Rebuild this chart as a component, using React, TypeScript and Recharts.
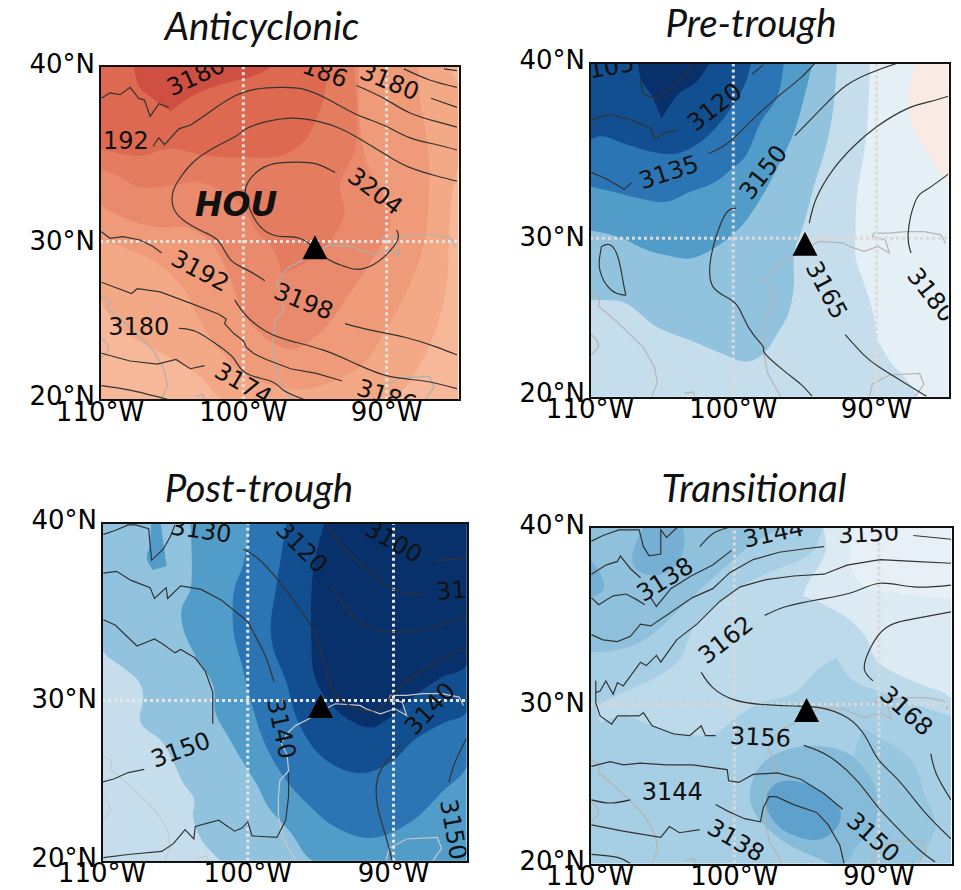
import React from 'react';
import { ScatterChart, Scatter, XAxis, YAxis } from 'recharts';

type Pt = [number, number];
type Lab = { at: Pt; text: string; angle: number; bold?: boolean };

// all map data is [lon, lat] in degrees
const lonTicks = [-110, -100, -90];
const latTicks = [20, 30, 40];
const houston: Pt[] = [[-95, 29.6]];

const blues = ['#c6deec', '#91c3de', '#519cc8', '#2b75b4', '#124f90', '#08306b'];

const coastLines: Pt[][] = [
  [[-96.7, 20], [-97.6, 21.5], [-97.9, 22.9], [-97.9, 24], [-97.8, 25.1], [-97.2, 25.7], [-97.3, 26.7], [-97.7, 27.4], [-97.2, 28.1], [-96.7, 28.5], [-95.8, 28.9], [-94.9, 29.4], [-94, 29.8], [-92.3, 29.7], [-91.9, 29.5], [-90.9, 29.2], [-89.9, 29.5], [-89.1, 29.1], [-89.4, 29.9], [-90.3, 30.1], [-90.2, 30.3], [-89.1, 30.3], [-88, 30.4], [-86.7, 30.4], [-85.5, 30.2], [-85.2, 29.7]],
  [[-109.9, 26.6], [-109.3, 26.3], [-109.4, 25.8], [-108.1, 24.8], [-107.2, 24], [-106.3, 23.2], [-105.5, 21.9], [-105.3, 20.9], [-105.7, 20]],
  [[-109.9, 24], [-109.5, 23.6], [-109.4, 23.2], [-109.9, 22.7]],
  [[-90.5, 20], [-90.3, 20.8], [-89.1, 21.4], [-87, 21.5], [-86.7, 20.8], [-87.3, 20]],
  [[-103.4, 20.2], [-102.8, 20.3], [-102.7, 20]],
];

// ---- Anticyclonic
const antiColors = ['#f7b89a', '#f4a986', '#ef9a78', '#e98a6c', '#e47c60', '#dc6950', '#cf4f42'];
const antiBands: Pt[][] = [
  [[-110, 20], [-85, 20], [-85, 40], [-110, 40]],
  [[-110, 26.6], [-108.4, 24.5], [-106, 23.2], [-103, 21.5], [-101.4, 20], [-89.8, 20], [-87.4, 22.8], [-85.9, 27], [-85.7, 30], [-85.5, 32.6], [-85, 34.9], [-85, 39], [-86, 40], [-110, 40]],
  [[-110, 30.3], [-108.4, 29.7], [-106, 28.7], [-104.2, 27.2], [-103, 25.1], [-101.6, 23.2], [-100, 21.7], [-98.1, 21], [-95.8, 20.7], [-93.7, 21.2], [-91.6, 22.4], [-90.2, 24.3], [-88.6, 27], [-87.4, 30], [-87.1, 33], [-87.1, 34.9], [-87.4, 36.8], [-87.8, 38.8], [-87.8, 40], [-110, 40]],
  [[-110, 32.4], [-108.4, 31.5], [-106, 30.9], [-104, 30.9], [-102.3, 30], [-100.9, 27.8], [-99.8, 25.3], [-98.1, 23.8], [-96.7, 23.3], [-94.7, 24.3], [-92.8, 26.6], [-90.9, 29.1], [-89.8, 31.1], [-90.2, 32.6], [-91.4, 34.6], [-91.9, 36.8], [-92, 40], [-110, 40]],
  [[-110, 34.3], [-108.6, 33.9], [-107.4, 33.3], [-104.9, 33.4], [-103.3, 33.6], [-101.4, 33], [-100, 32.1], [-99.1, 30.7], [-97.7, 29.3], [-97.3, 28], [-95.8, 28.7], [-94, 30], [-93, 31.7], [-93.3, 33.4], [-92.3, 35.3], [-92.1, 36.8], [-92.3, 40], [-110, 40]],
  [[-110, 35.5], [-107.2, 35.1], [-105.1, 35.5], [-102.6, 35.1], [-99.8, 35], [-97.4, 35.1], [-95.8, 35.9], [-94.9, 37.2], [-94.4, 38.4], [-94.1, 40], [-110, 40]],
  [[-107.6, 40], [-107.2, 38.9], [-106.3, 38.3], [-105.1, 37.6], [-103.7, 38.4], [-101.9, 39], [-99.1, 39.6], [-98.1, 40]],
];
const antiSmooth: Pt[][] = [
  [[-103.7, 36.8], [-102.6, 37.4], [-100.9, 38.3], [-99.1, 38.8], [-97.4, 38.9], [-95.8, 38.8], [-94, 38.2], [-92.1, 37.4], [-90.2, 36.8], [-88.4, 36.1], [-86.5, 35.7], [-85.1, 35.4]],
  [[-98.5, 27.6], [-99.8, 28.3], [-100.9, 28.9], [-101.7, 30], [-102.8, 30.6], [-104.2, 31.3], [-104.9, 32.1], [-104.9, 33], [-104.4, 33.8], [-103.5, 34.7], [-102.1, 35.5], [-100.5, 36.2], [-99.8, 36.6], [-98.4, 37], [-96.7, 37.2], [-95.3, 37.1], [-93.5, 36.7], [-91.6, 35.9], [-90, 35.1], [-88.4, 34.4], [-86.5, 33.9], [-85.1, 33.6]],
  [[-92.9, 24.9], [-91.2, 24.5], [-88.6, 24], [-86.5, 23.4], [-85.1, 22.9]],
  [[-93.6, 34.1], [-94.9, 34.6], [-96.3, 34.7], [-97.9, 34.6], [-99.1, 34.1], [-99.8, 33.3], [-99.8, 32.6], [-99.3, 31.5], [-98.4, 30.6], [-97.2, 30.3], [-95.8, 30.1], [-94.2, 29], [-93, 28.5], [-92.1, 28.3], [-90.9, 28.6], [-89.8, 29.4], [-89.2, 30.2], [-89.3, 30.7]],
  [[-92.1, 39], [-90.2, 38.3], [-88.4, 37.5], [-86.5, 37], [-85.1, 36.7]],
  [[-86.9, 38.3], [-85.1, 37.8]],
  [[-88.8, 39.9], [-87, 39.3], [-85.1, 38.9]],
  [[-86, 39.9], [-85.1, 39.8]],
  [[-100.6, 26.4], [-99.8, 25.4], [-98.4, 24.4], [-96.7, 23.8], [-94.4, 23.2], [-92.1, 22.3], [-89.8, 21.5], [-87.4, 21.2], [-85.1, 20.7]],
  [[-104.5, 24.6], [-103.3, 24.4], [-101.9, 23.6], [-100.7, 22.7], [-99.8, 21.7], [-98.1, 21.2], [-97.2, 20.6], [-95.8, 20]],
  [[-109.9, 20.9], [-107.9, 20.6], [-105.3, 20]],
];
const antiRough: Pt[][] = [
  [[-109.9, 38.3], [-109.3, 38.6], [-108.6, 38.5], [-107.9, 38.9], [-107.3, 38.3], [-106.9, 38.2], [-106.5, 37.3], [-105.9, 38], [-105.2, 37.8]],
  [[-106.3, 35.6], [-105.9, 36.1], [-105.5, 35.7], [-104.5, 36.6], [-103.7, 36.8]],
  [[-109.9, 30.6], [-109.3, 30.2], [-108.4, 30.3], [-107.2, 30.1], [-106.3, 29.7], [-105.7, 29.3]],
  [[-109.9, 27.5], [-107.8, 26.8], [-107.4, 27.1], [-105.8, 26.9], [-103.7, 26.2], [-101.7, 25.5], [-101.2, 25.2], [-101.3, 24.9], [-100.7, 24.3], [-100, 23.8], [-99.8, 23.4], [-99.3, 23], [-98.4, 22.6], [-96.7, 22], [-94.9, 21.7], [-93.1, 21.2]],
  [[-109.9, 23], [-107.9, 22.5], [-106, 22.3], [-104.7, 22.6], [-103.7, 22], [-102.7, 22.2]],
];
const antiLabels: Lab[] = [
  { at: [-103.3, 39.5], text: '3180', angle: -25 },
  { at: [-94.3, 39.7], text: '186', angle: 20 },
  { at: [-89.8, 39.2], text: '3180', angle: 22 },
  { at: [-108.2, 35.9], text: '192', angle: 0 },
  { at: [-90.8, 33], text: '3204', angle: 37 },
  { at: [-103, 28.2], text: '3192', angle: 28 },
  { at: [-95.8, 26.3], text: '3198', angle: 22 },
  { at: [-107.3, 24.7], text: '3180', angle: 0 },
  { at: [-100, 21], text: '3174', angle: 30 },
  { at: [-90, 20.2], text: '3186', angle: 18 },
  { at: [-100.5, 32.2], text: 'HOU', angle: 0, bold: true },
];

// ---- Pre-trough
const preColors = ['#e5eff6', '#f9eae3', ...blues];
const preBands: Pt[][] = [
  [[-110, 20], [-85, 20], [-85, 40], [-110, 40]],
  [[-87.3, 40], [-87.8, 37.9], [-87.7, 37], [-86.7, 35.4], [-85, 33.2], [-85, 40]],
  [[-90.5, 40], [-90.6, 37.9], [-90.8, 35.6], [-91.4, 32.6], [-91.5, 30.5], [-91.5, 28.8], [-90.9, 27.2], [-90.2, 25.1], [-90, 23.8], [-89.1, 22.3], [-87.7, 20.8], [-87.2, 20], [-110, 20], [-110, 40]],
  [[-92.8, 40], [-93.1, 37.3], [-93.5, 35.6], [-94.4, 33.1], [-95.1, 30.9], [-95.8, 29.1], [-95.8, 27.2], [-96.2, 25.3], [-97, 24], [-97.8, 22.9], [-98.6, 22.4], [-99.3, 22.3], [-100.5, 22.7], [-102.8, 23.6], [-105.3, 24.5], [-107.7, 26.1], [-108.6, 26.2], [-110, 26.2], [-110, 40]],
  [[-94.5, 40], [-95.1, 38.1], [-95.8, 36.2], [-97, 34.1], [-98.1, 32.4], [-99.5, 30.7], [-101.2, 29.5], [-103, 28.8], [-104.7, 29], [-106, 29.3], [-107.7, 30], [-108.8, 30.3], [-110, 30.5], [-110, 40]],
  [[-96.5, 40], [-97, 38.1], [-98.1, 36.8], [-99.3, 34.7], [-100, 34.2], [-101.4, 33.3], [-103, 32.8], [-104.7, 32.2], [-106.5, 32.4], [-108.4, 32.8], [-110, 33.1], [-110, 40]],
  [[-98.8, 40], [-99.2, 38.9], [-100.5, 37.2], [-102.1, 35.8], [-104, 35], [-105.6, 35.1], [-107.7, 35.6], [-109.3, 36], [-110, 35.8], [-110, 40]],
  [[-106.6, 40], [-106.4, 39.1], [-105.7, 38.3], [-105, 37], [-103.9, 38.3], [-102.6, 39], [-101.7, 40]],
];
const preSmooth: Pt[][] = [
  [[-101.7, 35], [-100.7, 35.4], [-99.8, 36], [-98.4, 37.1], [-96.7, 38.3], [-95.3, 39.2], [-94.3, 40]],
  [[-98.7, 39.4], [-97.9, 39.9]],
  [[-95.7, 36], [-94, 37.4], [-92.1, 38.8], [-90, 39.6], [-88.5, 40]],
  [[-94.7, 30.9], [-94.2, 32.4], [-93, 34.1], [-91.6, 35.4], [-90, 36.5], [-87.9, 37.5], [-86.3, 37.9], [-85, 38.2]],
  [[-99.8, 31.8], [-100.5, 31.5], [-101.2, 30.1], [-101.6, 28.6], [-101.4, 27], [-100, 26.1], [-99.3, 25.1], [-98.6, 24], [-97.9, 23.2], [-97.8, 22.8], [-96.5, 21.7], [-95.3, 20.8], [-94.5, 20]],
  [[-109.2, 29.5], [-108.6, 29.6], [-108, 28.7], [-107.6, 26.9], [-107.6, 26.5], [-108.5, 26.8], [-109.3, 28], [-109.3, 29], [-109.2, 29.5]],
  [[-85, 33.8], [-86.5, 32.9], [-87.3, 32.2], [-87.8, 30.3], [-87.6, 29.1]],
  [[-92.2, 24], [-90.9, 22.7], [-89.8, 21.9], [-87.9, 20.8], [-86.5, 20]],
];
const preRough: Pt[][] = [
  [[-106.5, 39.1], [-106.3, 38.3], [-105.5, 38.1], [-104.4, 38.6], [-103.3, 39.4], [-102.7, 40]],
  [[-109.9, 36.9], [-108.6, 37.2], [-107.2, 36.9], [-105.7, 36.4], [-105.5, 35.8], [-104.7, 36.2], [-103.9, 36.3]],
  [[-109.9, 33.9], [-108.8, 33.5], [-107.6, 32.9], [-107.1, 33.3]],
];
const preLabels: Lab[] = [
  { at: [-108.5, 39.8], text: '105', angle: -10 },
  { at: [-101.3, 37.6], text: '3120', angle: -38 },
  { at: [-104.5, 33.9], text: '3135', angle: -18 },
  { at: [-97.9, 33.9], text: '3150', angle: -52 },
  { at: [-93.5, 26.8], text: '3165', angle: 62 },
  { at: [-86.2, 26.5], text: '3180', angle: 52 },
];

// ---- Post-trough
const postColors = ['#91c3de', '#c6deec', '#519cc8', '#519cc8', '#2b75b4', '#124f90', '#08306b'];
const postBands: Pt[][] = [
  [[-110, 20], [-85, 20], [-85, 40], [-110, 40]],
  [[-109.9, 32.8], [-108.7, 32], [-107.5, 31.1], [-107.2, 30.2], [-107.4, 28.7], [-105.9, 27.5], [-105.1, 26.2], [-104.5, 25], [-103.7, 23.9], [-103.8, 22.9], [-103.1, 21.2], [-101.9, 20], [-110, 20], [-110, 33]],
  [[-103.9, 40], [-103.8, 37.7], [-103.9, 36.4], [-104.5, 35.3], [-104.4, 34.2], [-103.6, 32.7], [-102.3, 30.8], [-102.2, 29.3], [-101.3, 27.8], [-100.4, 26.4], [-99.3, 24.8], [-98.6, 23.5], [-97, 21.8], [-95.5, 20], [-85, 20], [-85, 40]],
  [[-106.9, 38.1], [-106.5, 37.5], [-105.6, 37.7], [-105.8, 38.8], [-106, 40], [-106.6, 40], [-106.7, 38.8]],
  [[-99.8, 40], [-100.3, 37.7], [-100.9, 36.4], [-101, 35], [-100.9, 33.8], [-100.4, 32.2], [-99.7, 29.8], [-98.8, 27.4], [-97.4, 25.2], [-95.6, 23.4], [-94, 22.2], [-91.5, 21.5], [-88.7, 22.6], [-86.7, 24.4], [-85, 26], [-85, 40]],
  [[-97.3, 40], [-97.6, 38.6], [-98.1, 36.1], [-98.4, 34.3], [-98.2, 33], [-97.4, 31.3], [-96.5, 28.7], [-94.9, 26.6], [-92.4, 25.6], [-90.3, 26.2], [-88.5, 27.7], [-86.5, 28.7], [-85, 29.3], [-85, 40]],
  [[-94.7, 40], [-95.4, 37.9], [-95.6, 36.1], [-95.6, 33.5], [-95.4, 31.5], [-94.5, 30], [-93.1, 28.9], [-91.5, 28.4], [-90.4, 28.9], [-88.7, 30.2], [-86.7, 31.4], [-85, 32.1], [-85, 40]],
];
const postSmooth: Pt[][] = [
  [[-100, 34.6], [-99, 33], [-98.6, 32.2], [-98.2, 31.1]],
  [[-100.3, 38.6], [-99.3, 38.1], [-97.9, 36.9], [-96.5, 35.4], [-95.4, 33.9], [-94.7, 32], [-94.2, 30.6], [-93.4, 29.9], [-92.2, 29.4], [-91, 29.5], [-90, 30.4], [-88.7, 31.4], [-86.7, 32.4], [-85, 33.1]],
  [[-94.3, 36.6], [-92.9, 35], [-91.5, 34.2], [-89.7, 34], [-87.6, 34.2], [-85, 34.9]],
  [[-94.6, 39.9], [-93.1, 38.4], [-91.5, 37.3], [-90, 36.4], [-87.9, 36.1]],
  [[-87, 38], [-85, 38.1]],
  [[-89.5, 27.3], [-90.4, 26.4], [-91.1, 25.2], [-91.1, 23.5], [-90.6, 21.8], [-90.1, 20]],
  [[-86.2, 25], [-85.8, 26.2], [-85, 27.7]],
];
const postRough: Pt[][] = [
  [[-109.9, 39.4], [-109.1, 39.6], [-108.2, 39.9], [-107.7, 39.9], [-106.8, 39.7], [-106.6, 38], [-105.8, 38.6], [-105.3, 39.3], [-105, 39.9]],
  [[-109.9, 37.3], [-109, 37.4], [-108, 36.9], [-106.7, 36.5], [-106.4, 35.9], [-105.6, 36.5], [-105.5, 35.9], [-104.6, 36.6], [-103.2, 36.4], [-101.8, 35.8], [-100, 34.6]],
  [[-109.9, 34.7], [-109.1, 34.4], [-107.6, 33.2], [-106.4, 33.6], [-105.8, 33.3], [-105, 32.8], [-104.6, 33], [-103.6, 32.5], [-102.9, 31.7], [-102.4, 30.5], [-102.4, 30], [-102.4, 28.6]],
  [[-110, 25], [-109.2, 25.2], [-108.2, 25.6], [-107.1, 25.8]],
  [[-109.9, 20.2], [-108.2, 20.4], [-105.9, 20.6], [-105.1, 21.1], [-104.3, 22], [-103.7, 21.4], [-103.6, 22.2], [-102, 22.6], [-100.9, 21.9], [-100.4, 22.1], [-100, 22.5], [-99.7, 21.6], [-98, 21.5], [-97.4, 22.6], [-97.2, 24.1], [-97.2, 25.6]],
];
const postLabels: Lab[] = [
  { at: [-103.2, 39.6], text: '3130', angle: 8 },
  { at: [-96.3, 38.7], text: '3120', angle: 45 },
  { at: [-90, 39], text: '3100', angle: 30 },
  { at: [-85, 36.4], text: '3110', angle: -5 },
  { at: [-97.7, 28.3], text: '3140', angle: 78 },
  { at: [-87.5, 29.5], text: '3140', angle: -47 },
  { at: [-104.6, 27], text: '3150', angle: -20 },
  { at: [-85.9, 22], text: '3150', angle: 80 },
];

// ---- Transitional
const transColors = ['#a6cee4', '#dcebf3', '#e6f0f6', '#bcdaea', '#8fc1dc', '#75b0d4', '#75b0d4', '#97c6df', '#85bbd9', '#5ea1cc'];
const transBands: Pt[][] = [
  [[-110, 20], [-85, 20], [-85, 40], [-110, 40]],
  [[-93.8, 40], [-93.7, 38.8], [-95, 36.9], [-95.3, 36.3], [-93.6, 35.7], [-92, 34.9], [-90.9, 33.9], [-90.2, 32.6], [-88.8, 31.8], [-86.9, 31.1], [-85, 30.3], [-85, 40]],
  [[-91.8, 40], [-91.9, 37.9], [-91.1, 36.9], [-89, 36.5], [-85, 36.2], [-85, 40]],
  [[-93.9, 40], [-94.5, 38.8], [-97.8, 37.5], [-99.8, 36.7], [-101.5, 35.6], [-102.8, 34.5], [-103.8, 32.6], [-105.4, 31.6], [-107.7, 30.7], [-109.5, 29.9], [-109.3, 28.9], [-107.7, 29.3], [-104.9, 28.5], [-101.5, 28.2], [-99.8, 29.3], [-98.2, 30.1], [-95.9, 30.7], [-94.1, 32.2], [-92.9, 32.8], [-92, 31.6], [-90, 30.8], [-85, 29.3], [-85, 30.3], [-86.9, 31.1], [-88.8, 31.8], [-90.2, 32.6], [-90.9, 33.9], [-92, 34.9], [-93.6, 35.7], [-95.3, 36.3], [-95, 36.9], [-93.7, 38.8]],
  [[-110, 33.1], [-108.4, 33.2], [-106.5, 33.7], [-104.9, 34.7], [-103.3, 36], [-101.5, 37.3], [-100.1, 38.3], [-98.7, 39.2], [-96.8, 40], [-110, 40]],
  [[-106.3, 40], [-107, 38.1], [-106.1, 37.5], [-104.2, 37.9], [-103.5, 39.2], [-103.6, 40]],
  [[-110, 38.3], [-109.3, 37.5], [-109.1, 36.7], [-109.7, 36.3], [-110, 36.3]],
  [[-91.1, 28.5], [-88.6, 27.2], [-87.6, 26.4], [-86.9, 24.5], [-86.1, 22.6], [-86.5, 21.4], [-87.6, 20], [-92.9, 20], [-92.2, 25.1]],
  [[-98.9, 24.5], [-98.2, 26.2], [-96.4, 27.2], [-93.8, 27.4], [-92, 26.9], [-90.6, 25.5], [-90.1, 24.1], [-90.4, 22.4], [-91.5, 21.2], [-92.5, 20], [-94.5, 20.5], [-96.8, 21.6], [-98.5, 23.2]],
  [[-97.8, 24.1], [-97.1, 25.1], [-95.5, 25.2], [-93.8, 24.5], [-92.7, 23.4], [-92.9, 22.4], [-94.1, 21.6], [-95.7, 21.8], [-97.1, 22.6]],
];
const transSmooth: Pt[][] = [
  [[-102.4, 39], [-101.5, 39.7], [-100.5, 40]],
  [[-87.6, 39.6], [-85, 39.4]],
  [[-97.9, 35.2], [-96.4, 35.7], [-94.1, 36.1], [-91.8, 36.5], [-89.9, 37], [-87.6, 36.8], [-85, 36.9]],
  [[-90.4, 31.4], [-91, 32.1], [-90.6, 33.3], [-89.5, 34.5], [-87.6, 35], [-85, 35.4]],
  [[-102.3, 31.9], [-101.5, 31], [-100.1, 30.3], [-98.2, 30], [-95.9, 29.9], [-94.1, 29.8], [-92.2, 29.2], [-90.9, 28], [-90, 26.6], [-88.6, 25.3], [-86.9, 23.4], [-85, 21.6]],
  [[-86.4, 27], [-86, 25.7], [-85, 24.1]],
  [[-95.2, 27.5], [-93.4, 26.8], [-91.5, 25.3], [-90.2, 23.8], [-88.6, 22.2], [-87.2, 20.9], [-86.1, 20.1]],
  [[-109.9, 24.1], [-108.6, 23.9], [-107.2, 24.1]],
  [[-109.9, 20.6], [-108.1, 20.4], [-107.2, 20]],
];
const transRough: Pt[][] = [
  [[-109.9, 39.3], [-109.1, 39.6], [-108, 39.9], [-106.6, 39.9], [-106.3, 39], [-105.9, 38.5], [-105.1, 38.6], [-105.1, 39.9], [-104.7, 39.5], [-104, 40]],
  [[-109.9, 37.5], [-108.9, 38], [-108.1, 38.2], [-107.9, 38.5], [-107.7, 38.3], [-107.2, 37.8], [-106.5, 37.3]],
  [[-109.9, 36.2], [-109.4, 35.8], [-108.4, 36.3], [-107.5, 36.4], [-106.8, 36.1], [-106.2, 35.8]],
  [[-105.8, 36.2], [-105.4, 35.7], [-104.4, 36.7], [-103, 37.4], [-101.5, 38], [-100.2, 38.8]],
  [[-109.9, 34.1], [-109.1, 33.8], [-108.1, 33.7], [-107.2, 34], [-106.5, 34.7], [-105.8, 34.6], [-104.7, 35.2], [-102.9, 36.2], [-101.5, 36.7], [-100.3, 37.6], [-98.7, 38.3], [-96.9, 38.7], [-95, 38.9], [-93.8, 39]],
  [[-109.6, 31.4], [-109.6, 30.7], [-109.3, 30.8], [-108.9, 31.4], [-108.4, 30.6], [-108.1, 31.3], [-107.7, 31.1], [-106.5, 32.5], [-106.1, 32.3], [-105.4, 32.9], [-105.1, 32.5], [-104, 33.8], [-102.6, 34.7], [-101, 36], [-99.6, 36.8], [-97.8, 37.2], [-95.9, 37.4], [-93.8, 37.5], [-92.2, 38], [-89.9, 38.3], [-87.6, 38.2], [-85, 38.1]],
  [[-109.6, 30.7], [-109.6, 30.1], [-109.3, 29.3], [-108.5, 28.8], [-108.1, 29.3], [-107, 29.3], [-106.6, 29.3], [-106.3, 29.5], [-105.7, 28.7], [-104.2, 28.2], [-103.1, 28.1], [-102.3, 28.7], [-102, 28.1], [-101.3, 28.1]],
  [[-109.9, 26.2], [-108.6, 26.5], [-107.7, 26.3], [-106.5, 26.4], [-104.7, 26.3], [-102.9, 26.3], [-100.5, 26], [-100.4, 25.3], [-99.7, 25.2], [-98.7, 25.7], [-97, 25.8], [-95.4, 25.4], [-93.8, 24.5], [-92.5, 23.5]],
  [[-101.3, 23.8], [-100.5, 23.4], [-99.8, 23.1], [-99.3, 22.9], [-98.2, 22.7], [-98, 23.6], [-97.6, 24.3], [-97.1, 24.3], [-95.9, 23.8], [-94.3, 23.3], [-93.5, 22.5], [-92.7, 21.2], [-92.4, 20]],
  [[-109.9, 22.5], [-107.7, 22.1], [-105.1, 21.7], [-104.5, 22.4], [-103.8, 22], [-102.4, 22.2]],
];
const transLabels: Lab[] = [
  { at: [-97.3, 39.7], text: '3144', angle: -12 },
  { at: [-90.7, 39.7], text: '3150', angle: -3 },
  { at: [-104.8, 37.2], text: '3138', angle: -32 },
  { at: [-100.6, 33.8], text: '3162', angle: -38 },
  { at: [-88.1, 29.6], text: '3168', angle: 42 },
  { at: [-98.2, 28], text: '3156', angle: 3 },
  { at: [-104.3, 24.6], text: '3144', angle: 0 },
  { at: [-99.9, 21.5], text: '3138', angle: 30 },
  { at: [-90.4, 21.7], text: '3150', angle: 42 },
];

const merc = (lat: number) => Math.log(Math.tan(Math.PI / 4 + (lat * Math.PI) / 360));
const unmerc = (y: number) => ((2 * Math.atan(Math.exp(y)) - Math.PI / 2) * 180) / Math.PI;
const rows = (pts: Pt[]) => pts.map(([lon, lat]) => ({ lon, y: merc(lat) }));
const hidden = () => <g />;

// closed smooth outline for the filled bands, keeps sharp corners
const bandCurve = (ctx: any) => {
  let pts: number[][] = [];
  return {
    areaStart() {},
    areaEnd() {},
    lineStart() {
      pts = [];
    },
    point(x: number, y: number) {
      pts.push([x, y]);
    },
    lineEnd() {
      const n = pts.length;
      const tangents = pts.map((p, i) => {
        const a = pts[(i + n - 1) % n];
        const b = pts[(i + 1) % n];
        const l1 = Math.hypot(p[0] - a[0], p[1] - a[1]) || 1;
        const l2 = Math.hypot(b[0] - p[0], b[1] - p[1]) || 1;
        const ux = (p[0] - a[0]) / l1;
        const uy = (p[1] - a[1]) / l1;
        const vx = (b[0] - p[0]) / l2;
        const vy = (b[1] - p[1]) / l2;
        if (ux * vx + uy * vy < 0.35) return [0, 0];
        const len = Math.hypot(ux + vx, uy + vy) || 1;
        return [(ux + vx) / len, (uy + vy) / len];
      });
      ctx.moveTo(pts[0][0], pts[0][1]);
      pts.forEach((p, i) => {
        const j = (i + 1) % n;
        const q = pts[j];
        const d = Math.hypot(q[0] - p[0], q[1] - p[1]) / 3;
        ctx.bezierCurveTo(p[0] + tangents[i][0] * d, p[1] + tangents[i][1] * d, q[0] - tangents[j][0] * d, q[1] - tangents[j][1] * d, q[0], q[1]);
      });
      ctx.closePath();
    },
  };
};

const ContourText = (p: any) => {
  const { text, angle, bold } = p.payload;
  return (
    <text
      x={p.cx}
      y={p.cy}
      textAnchor="middle"
      dominantBaseline="central"
      transform={`rotate(${angle} ${p.cx} ${p.cy})`}
      fontFamily="DejaVu Sans"
      fontSize={bold ? 33 : 24}
      fontWeight={bold ? 700 : 400}
      fontStyle={bold ? 'italic' : 'normal'}
      fill="#111"
    >
      {text}
    </text>
  );
};

const Triangle = (p: any) => (
  <polygon points={`${p.cx},${p.cy - 13} ${p.cx - 12.5},${p.cy + 11} ${p.cx + 12.5},${p.cy + 11}`} fill="#000" />
);

const LatTick = (p: any) => (
  <text x={p.x + 1} y={p.y + (p.index === 1 ? -1 : -3)} textAnchor="end" dominantBaseline="central" fontFamily="DejaVu Sans" fontSize={26} fill="#000">
    {`${Math.round(unmerc(p.payload.value))}°N`}
  </text>
);

interface PanelProps {
  title: string;
  titleX: number;
  titleY: number;
  left: number;
  top: number;
  right: number;
  bottom: number;
  colors: string[];
  bands: Pt[][];
  smooth: Pt[][];
  rough: Pt[][];
  labels: Lab[];
  coast: string;
  grid: string;
}

function MapPanel({ title, titleX, titleY, left, top, right, bottom, colors, bands, smooth, rough, labels, coast, grid }: PanelProps) {
  const w = right - left;
  const h = bottom - top;
  const padL = 80;
  const padT = 20;
  return (
    <>
      <div style={{ position: 'absolute', left: titleX - 150, top: titleY - 22, width: 300, height: 44, lineHeight: '44px', textAlign: 'center', fontFamily: 'Lato', fontStyle: 'italic', fontWeight: 400, fontSize: 38.5, color: '#111' }}>
        {title}
      </div>
      <div style={{ position: 'absolute', left: left - padL, top: top - padT }}>
        <ScatterChart width={w + padL + 30} height={h + padT + 45} margin={{ top: padT, left: 0, right: 30, bottom: 0 }}>
          <XAxis
            dataKey="lon"
            type="number"
            domain={[-110, -85]}
            ticks={lonTicks}
            interval={0}
            allowDataOverflow
            height={45}
            axisLine={false}
            tickLine={false}
            tickMargin={0}
            tick={{ fill: '#000', fontSize: 26, fontFamily: 'DejaVu Sans', dy: -3 }}
            tickFormatter={(v: number) => `${-v}°W`}
          />
          <YAxis
            dataKey="y"
            type="number"
            domain={[merc(20), merc(40)]}
            ticks={latTicks.map(merc)}
            interval={0}
            allowDataOverflow
            width={padL}
            axisLine={false}
            tickLine={false}
            tickMargin={0}
            tick={LatTick}
          />
          {bands.map((b, i) => (
            <Scatter key={`band${i}`} data={rows(b)} line={{ fill: colors[i], stroke: colors[i], strokeWidth: 1 }} lineJointType={bandCurve as any} shape={hidden} isAnimationActive={false} />
          ))}
          {coastLines.map((c, i) => (
            <Scatter key={`coast${i}`} data={rows(c)} line={{ stroke: coast, strokeWidth: 1.2 }} shape={hidden} isAnimationActive={false} />
          ))}
          {lonTicks.slice(1).map((lon) => (
            <Scatter key={`mer${lon}`} data={rows([[lon, 20], [lon, 40]])} line={{ stroke: grid, strokeWidth: 3, strokeDasharray: '3 3' }} shape={hidden} isAnimationActive={false} />
          ))}
          <Scatter data={rows([[-110, 30], [-85, 30]])} line={{ stroke: grid, strokeWidth: 3, strokeDasharray: '3 3' }} shape={hidden} isAnimationActive={false} />
          {smooth.map((c, i) => (
            <Scatter key={`smooth${i}`} data={rows(c)} line={{ stroke: '#333', strokeWidth: 1.2 }} lineJointType="natural" shape={hidden} isAnimationActive={false} />
          ))}
          {rough.map((c, i) => (
            <Scatter key={`rough${i}`} data={rows(c)} line={{ stroke: '#333', strokeWidth: 1.2 }} shape={hidden} isAnimationActive={false} />
          ))}
          <Scatter
            data={labels.map((l) => ({ lon: l.at[0], y: merc(l.at[1]), text: l.text, angle: l.angle, bold: l.bold }))}
            shape={ContourText}
            isAnimationActive={false}
          />
          <Scatter data={rows(houston)} shape={Triangle} isAnimationActive={false} />
        </ScatterChart>
      </div>
      <div style={{ position: 'absolute', left: left - 1.5, top: top - 1.5, width: w, height: h, border: '2.5px solid #111', pointerEvents: 'none', boxSizing: 'content-box' }} />
    </>
  );
}

export default function App() {
  return (
    <div style={{ position: 'absolute', left: 0, top: 0, width: 961, height: 890, background: '#fff' }}>
      <MapPanel title="Anticyclonic" titleX={262} titleY={25} left={100} top={66.7} right={458.3} bottom={399} colors={antiColors} bands={antiBands} smooth={antiSmooth} rough={antiRough} labels={antiLabels} coast="#aeb0b0" grid="#e6e2de" />
      <MapPanel title="Pre-trough" titleX={751} titleY={22} left={590} top={63.3} right={948.3} bottom={396.7} colors={preColors} bands={preBands} smooth={preSmooth} rough={preRough} labels={preLabels} coast="#b5b5b5" grid="#dedad8" />
      <MapPanel title="Post-trough" titleX={259} titleY={487} left={102.3} top={523.3} right={466.7} bottom={861} colors={postColors} bands={postBands} smooth={postSmooth} rough={postRough} labels={postLabels} coast="#c8c8c8" grid="#e8e6e4" />
      <MapPanel title="Transitional" titleX={754} titleY={487} left={590} top={527.7} right={951} bottom={863.3} colors={transColors} bands={transBands} smooth={transSmooth} rough={transRough} labels={transLabels} coast="#b8b4b0" grid="#dcd8d4" />
    </div>
  );
}
